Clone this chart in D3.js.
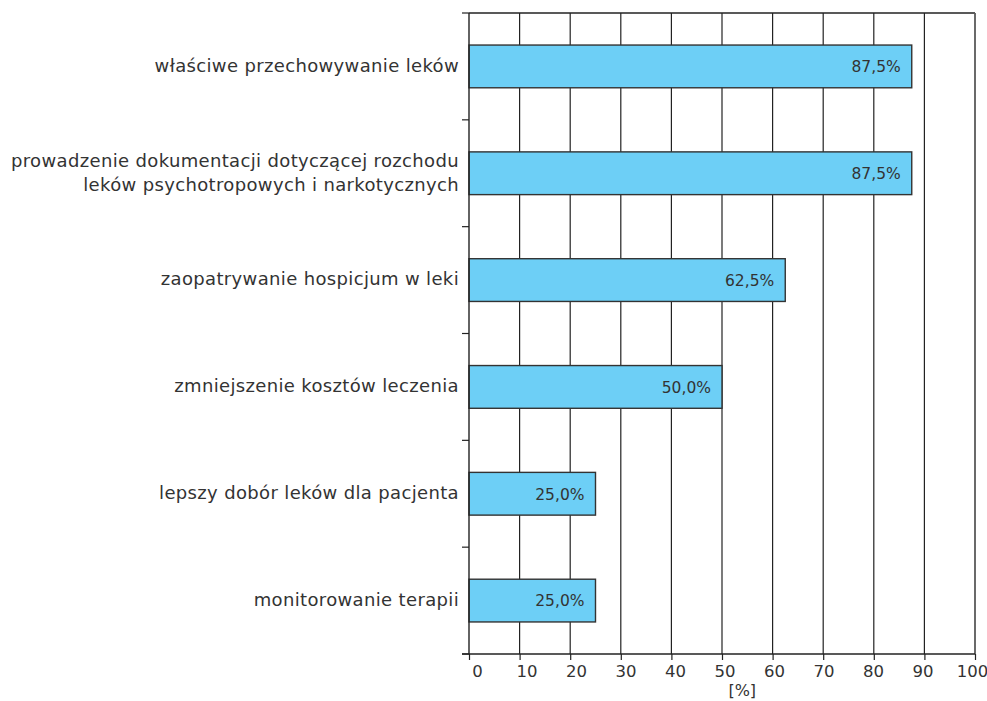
<!DOCTYPE html>
<html>
<head>
<meta charset="utf-8">
<script src="https://cdn.jsdelivr.net/npm/d3@7"></script>
<style>
  body { margin: 0; background: #fff; }
  svg { display: block; }
  text { font-family: "DejaVu Sans", sans-serif; fill: #333; }
</style>
</head>
<body>
<svg id="chart" width="987" height="701"></svg>
<script>
// Category labels (each entry is a list of lines), top to bottom
const categories = [
  ["właściwe przechowywanie leków"],
  ["prowadzenie dokumentacji dotyczącej rozchodu", "leków psychotropowych i narkotycznych"],
  ["zaopatrywanie hospicjum w leki"],
  ["zmniejszenie kosztów leczenia"],
  ["lepszy dobór leków dla pacjenta"],
  ["monitorowanie terapii"]
];
const values = [87.5, 87.5, 62.5, 50.0, 25.0, 25.0];
const xTicks = [0, 10, 20, 30, 40, 50, 60, 70, 80, 90, 100];
const xAxisTitle = "[%]";

const svg = d3.select("#chart");
const margin = { left: 469, right: 12, top: 13, bottom: 47 };
const W = 987, H = 701;
const plotW = W - margin.left - margin.right;
const plotH = H - margin.top - margin.bottom;

const g = svg.append("g").attr("transform", `translate(${margin.left},${margin.top})`);

const x = d3.scaleLinear().domain([0, 100]).range([0, plotW]);
const y = d3.scaleBand()
  .domain(d3.range(categories.length))
  .range([0, plotH])
  .paddingInner(0.6)
  .paddingOuter(0.3);

// Vertical gridlines
g.append("g").selectAll("line")
  .data(xTicks.slice(1))
  .join("line")
  .attr("x1", d => x(d)).attr("x2", d => x(d))
  .attr("y1", 0).attr("y2", plotH)
  .attr("stroke", "#222").attr("stroke-width", 1.2);

// Plot frame (top and right edges)
g.append("line").attr("x1", 0).attr("x2", plotW).attr("y1", 0).attr("y2", 0)
  .attr("stroke", "#222").attr("stroke-width", 1.4);
g.append("line").attr("x1", plotW).attr("x2", plotW).attr("y1", 0).attr("y2", plotH)
  .attr("stroke", "#666").attr("stroke-width", 1.6);

// Bars
g.append("g").selectAll("rect")
  .data(values)
  .join("rect")
  .attr("x", 0)
  .attr("y", (d, i) => y(i))
  .attr("width", d => x(d))
  .attr("height", y.bandwidth())
  .attr("fill", "#6dcff6")
  .attr("stroke", "#333")
  .attr("stroke-width", 1.4);

// Value labels inside the bar ends
const fmt = v => v.toFixed(1).replace(".", ",") + "%";
g.append("g").selectAll("text")
  .data(values)
  .join("text")
  .attr("x", d => x(d) - 11)
  .attr("y", (d, i) => y(i) + y.bandwidth() / 2)
  .attr("dy", "0.38em")
  .attr("text-anchor", "end")
  .style("font-size", "15.5px")
  .text(fmt);

// Y axis: line with ticks at category boundaries
const boundaries = d3.range(categories.length + 1).map(i => i * plotH / categories.length);
g.append("line").attr("x1", 0).attr("x2", 0).attr("y1", 0).attr("y2", plotH)
  .attr("stroke", "#222").attr("stroke-width", 1.4);
g.append("g").selectAll("line")
  .data(boundaries)
  .join("line")
  .attr("x1", -7).attr("x2", 0)
  .attr("y1", d => d).attr("y2", d => d)
  .attr("stroke", "#222").attr("stroke-width", 1.2);

// Category labels
const lab = g.append("g").selectAll("text")
  .data(categories)
  .join("text")
  .attr("text-anchor", "end")
  .style("font-size", "18px")
  .style("letter-spacing", "0.35px")
  .attr("transform", (d, i) => `translate(-10,${y(i) + y.bandwidth() / 2})`);
lab.selectAll("tspan")
  .data(d => d.map((t, k) => ({ t, k, n: d.length })))
  .join("tspan")
  .attr("x", 0)
  .attr("y", d => (d.k - (d.n - 1) / 2) * 24)
  .attr("dy", "0.3em")
  .text(d => d.t);

// X axis; tick labels drift slightly right toward the low end
const labelShift = d3.scaleLinear().domain([0, 100]).range([8, -3]);
const xAxis = g.append("g").attr("transform", `translate(0,${plotH})`)
  .call(d3.axisBottom(x).tickValues(xTicks).tickSize(6).tickPadding(5));
xAxis.select(".domain").remove();
xAxis.selectAll(".tick line").attr("stroke", "#222").attr("stroke-width", 1.2);
xAxis.selectAll(".tick text")
  .style("font-size", "16.5px")
  .attr("fill", "#333")
  .attr("dx", d => labelShift(d));
g.append("line").attr("x1", -7).attr("x2", plotW).attr("y1", plotH).attr("y2", plotH)
  .attr("stroke", "#222").attr("stroke-width", 1.4);

g.append("text")
  .attr("x", x(54))
  .attr("y", plotH + 42)
  .attr("text-anchor", "middle")
  .style("font-size", "16px")
  .text(xAxisTitle);
</script>
</body>
</html>
